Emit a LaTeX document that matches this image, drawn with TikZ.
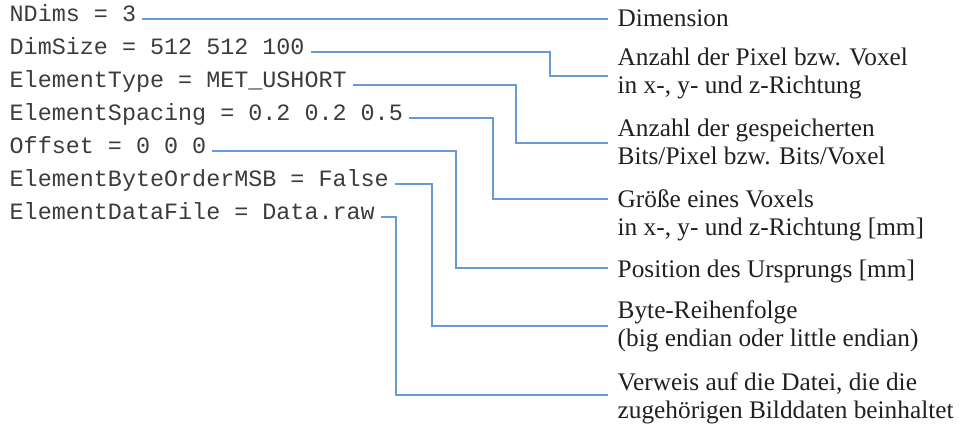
\documentclass[tikz,border=0pt]{standalone}
\usepackage{fontspec}
\setmainfont{Liberation Serif}
\setmonofont{Liberation Mono}
\definecolor{conncol}{RGB}{104,154,216}
\definecolor{txtcol}{RGB}{35,31,32}
\definecolor{codecol}{RGB}{60,60,60}
\begin{document}
\begin{tikzpicture}[x=1pt,y=-1pt,
  code/.style={inner sep=0pt, anchor=mid west, text=codecol, font=\fontsize{23.4}{28}\selectfont\ttfamily},
  lab/.style={inner sep=0pt, anchor=base west, align=left, text=txtcol, font=\fontsize{25.3}{27.5}\selectfont},
  conn/.style={draw=conncol, line width=1.2pt}]
\useasboundingbox (0,0) rectangle (959,424);
% code lines
\node[code] (m1) at (9.5,19)  {NDims = 3};
\node[code] (m2) at (9.5,52)  {DimSize = 512 512 100};
\node[code] (m3) at (9.5,85)  {ElementType = MET\_USHORT};
\node[code] (m4) at (9.5,118) {ElementSpacing = 0.2 0.2 0.5};
\node[code] (m5) at (9.5,151) {Offset = 0 0 0};
\node[code] (m6) at (9.5,184) {ElementByteOrderMSB = False};
\node[code] (m7) at (9.5,217) {ElementDataFile = Data.raw};
% labels (base anchor = baseline of last line)
\node[lab] (l1) at (617.5,26)  {Dimension};
\node[lab] (l2) at (617.5,93)  {Anzahl der Pixel bzw. Voxel\\in x-, y- und z-Richtung};
\node[lab] (l3) at (617.5,164) {Anzahl der gespeicherten\\Bits/Pixel bzw. Bits/Voxel};
\node[lab] (l4) at (617.5,235) {Größe eines Voxels\\in x-, y- und z-Richtung [mm]};
\node[lab] (l5) at (617.5,277) {Position des Ursprungs [mm]};
\node[lab] (l6) at (617.5,346) {Byte-Reihenfolge\\(big endian oder little endian)};
\node[lab] (l7) at (617.5,418) {Verweis auf die Datei, die die\\zugehörigen Bilddaten beinhaltet};
% elbows and ends
\coordinate (e1) at (608,19);
\coordinate (k2) at (550,76);  \coordinate (e2) at (608,76);
\coordinate (k3) at (516,143); \coordinate (e3) at (608,143);
\coordinate (k4) at (493,199); \coordinate (e4) at (608,199);
\coordinate (k5) at (456,268); \coordinate (e5) at (608,268);
\coordinate (k6) at (432,326); \coordinate (e6) at (608,326);
\coordinate (k7) at (396,395); \coordinate (e7) at (608,395);
% connectors
\draw[conn] ([xshift=6pt]m1.mid east) -- (e1);
\draw[conn] ([xshift=6pt]m2.mid east) -| (k2) -- (e2);
\draw[conn] ([xshift=6pt]m3.mid east) -| (k3) -- (e3);
\draw[conn] ([xshift=6pt]m4.mid east) -| (k4) -- (e4);
\draw[conn] ([xshift=6pt]m5.mid east) -| (k5) -- (e5);
\draw[conn] ([xshift=6pt]m6.mid east) -| (k6) -- (e6);
\draw[conn] ([xshift=6pt]m7.mid east) -| (k7) -- (e7);
\end{tikzpicture}
\end{document}
